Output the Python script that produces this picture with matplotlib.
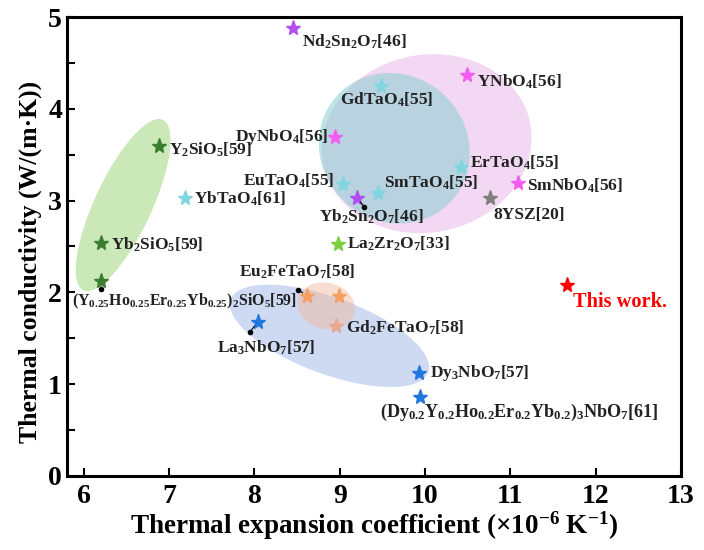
import matplotlib
matplotlib.use("Agg")
import matplotlib.pyplot as plt
from matplotlib.patches import Ellipse
from matplotlib.ticker import MultipleLocator

plt.rcParams['font.family'] = ['Liberation Serif', 'DejaVu Serif']
plt.rcParams['font.weight'] = 'bold'
plt.rcParams['axes.labelweight'] = 'bold'
plt.rcParams['mathtext.fontset'] = 'custom'
plt.rcParams['mathtext.rm'] = 'Liberation Serif:bold'
plt.rcParams['mathtext.default'] = 'regular'

# material, TEC (1e-6/K), thermal conductivity (W/(m K)), family
names = ['Nd2Sn2O7', 'Yb2Sn2O7', 'YNbO4', 'DyNbO4', 'SmNbO4',
         'GdTaO4', 'ErTaO4', 'EuTaO4', 'SmTaO4', 'YbTaO4',
         'Y2SiO5', 'Yb2SiO5', 'HEO-SiO5', 'La2Zr2O7',
         'Eu2FeTaO7-a', 'Eu2FeTaO7-b', 'Gd2FeTaO7',
         'La3NbO7', 'Dy3NbO7', 'HEO-NbO7', '8YSZ', 'This work']
tec = [8.45, 9.20, 10.49, 8.95, 11.09,
       9.48, 10.42, 9.04, 9.45, 7.18,
       6.88, 6.20, 6.20, 8.98,
       8.62, 8.99, 8.96,
       8.04, 9.93, 9.94, 10.76, 11.66]
kappa = [4.88, 3.03, 4.37, 3.69, 3.19,
         4.25, 3.37, 3.18, 3.08, 3.03,
         3.59, 2.54, 2.12, 2.53,
         1.96, 1.96, 1.63,
         1.68, 1.12, 0.86, 3.03, 2.08]
family = ['sn', 'sn', 'nb', 'nb', 'nb',
          'ta', 'ta', 'ta', 'ta', 'ta',
          'si', 'si', 'si', 'zr',
          'fe', 'fe', 'gd',
          'nb7', 'nb7', 'nb7', 'ysz', 'this']

colors = {'sn': '#b24ef0', 'nb': '#f35cf0', 'ta': '#80d6df', 'si': '#3a7d2c',
          'zr': '#7ccf40', 'fe': '#f5a060', 'gd': '#e8a890', 'nb7': '#2277dd',
          'ysz': '#7f7f7f', 'this': '#ff0000'}

# label text, offset from the star (data units), alignment, size
labels = {
    'Nd2Sn2O7': (r'Nd$_2$Sn$_2$O$_7$[46]', 0.11, -0.15, 'left', 12.5),
    'Yb2Sn2O7': (r'Yb$_2$Sn$_2$O$_7$[46]', -0.44, -0.21, 'left', 12.5),
    'YNbO4': (r'YNbO$_4$[56]', 0.12, -0.08, 'left', 12.5),
    'DyNbO4': (r'DyNbO$_4$[56]', -0.09, 0.0, 'right', 12.5),
    'SmNbO4': (r'SmNbO$_4$[56]', 0.11, -0.03, 'left', 12.5),
    'GdTaO4': (r'GdTaO$_4$[55]', -0.48, -0.15, 'left', 12.5),
    'ErTaO4': (r'ErTaO$_4$[55]', 0.11, 0.04, 'left', 12.5),
    'EuTaO4': (r'EuTaO$_4$[55]', -0.10, 0.04, 'right', 12.5),
    'SmTaO4': (r'SmTaO$_4$[55]', 0.07, 0.11, 'left', 12.5),
    'YbTaO4': (r'YbTaO$_4$[61]', 0.11, -0.01, 'left', 12.5),
    'Y2SiO5': (r'Y$_2$SiO$_5$[59]', 0.12, -0.04, 'left', 12.5),
    'Yb2SiO5': (r'Yb$_2$SiO$_5$[59]', 0.12, -0.02, 'left', 12.5),
    'HEO-SiO5': (r'(Y$_{0.25}$Ho$_{0.25}$Er$_{0.25}$Yb$_{0.25}$)$_2$SiO$_5$[59]', -0.34, -0.22, 'left', 11.4),
    'La2Zr2O7': (r'La$_2$Zr$_2$O$_7$[33]', 0.10, 0.0, 'left', 12.5),
    'Eu2FeTaO7-a': (r'Eu$_2$FeTaO$_7$[58]', -0.80, 0.26, 'left', 12.5),
    'Gd2FeTaO7': (r'Gd$_2$FeTaO$_7$[58]', 0.11, -0.02, 'left', 12.5),
    'La3NbO7': (r'La$_3$NbO$_7$[57]', -0.48, -0.29, 'left', 12.5),
    'Dy3NbO7': (r'Dy$_3$NbO$_7$[57]', 0.13, 0.0, 'left', 12.5),
    'HEO-NbO7': (r'(Dy$_{0.2}$Y$_{0.2}$Ho$_{0.2}$Er$_{0.2}$Yb$_{0.2}$)$_3$NbO$_7$[61]', -0.47, -0.17, 'left', 13.1),
    '8YSZ': (r'8YSZ[20]', 0.04, -0.19, 'left', 12.5),
}
# short leader lines: dot offset from the star
leaders = {
    'Yb2Sn2O7': (0.09, -0.10),
    'La3NbO7': (-0.09, -0.11),
    'Eu2FeTaO7-a': (-0.11, 0.07),
    'HEO-SiO5': (0.0, -0.08),
}

fig, ax = plt.subplots(figsize=(7.04, 5.5), dpi=100)
fig.subplots_adjust(left=0.095, right=0.967, bottom=0.135, top=0.969)

# shaded groups
ax.add_patch(Ellipse((6.46, 2.95), 2.08, 0.66, angle=63, facecolor='#a8d98a', alpha=0.6, lw=0, zorder=1))
ax.add_patch(Ellipse((10.02, 3.62), 2.47, 1.94, angle=8, facecolor='#dc90dc', alpha=0.35, lw=0, zorder=1))
ax.add_patch(Ellipse((9.64, 3.57), 1.79, 1.62, angle=-20, facecolor='#7fcdcd', alpha=0.5, lw=0, zorder=1))
ax.add_patch(Ellipse((8.88, 1.525), 2.45, 0.84, angle=-18.6, facecolor='#9fb6e6', alpha=0.5, lw=0, zorder=1))
ax.add_patch(Ellipse((8.84, 1.85), 0.68, 0.51, angle=-10, facecolor='#f0b49a', alpha=0.45, lw=0, zorder=1))

for n, x, y, f in zip(names, tec, kappa, family):
    ax.plot(x, y, marker='*', ms=11, color=colors[f], mec=colors[f], zorder=3)

for n, x, y in zip(names, tec, kappa):
    if n in labels:
        txt, dx, dy, ha, size = labels[n]
        ax.text(x + dx, y + dy, txt, fontsize=size, ha=ha, va='center', color='#222222', zorder=4)
    if n in leaders:
        ox, oy = leaders[n]
        ax.annotate('', xy=(x + ox, y + oy), xytext=(x, y),
                    arrowprops=dict(arrowstyle='-', lw=0.8, color='k', shrinkA=4, shrinkB=0))
        ax.plot(x + ox, y + oy, 'o', ms=3, color='k', zorder=4)

ax.text(tec[-1] + 0.08, kappa[-1] - 0.19, 'This work.', color='red', fontsize=14.7, ha='left', va='center')

ax.set_xlim(5.8, 13)
ax.set_ylim(0, 5)
ax.xaxis.set_major_locator(MultipleLocator(1))
ax.yaxis.set_major_locator(MultipleLocator(1))
ax.yaxis.set_minor_locator(MultipleLocator(0.5))
ax.tick_params(which='both', direction='in', length=6, width=1.5, labelsize=20)
ax.tick_params(axis='x', pad=6)
for lab in ax.get_xticklabels() + ax.get_yticklabels():
    lab.set_fontweight('bold')
for s in ax.spines.values():
    s.set_linewidth(2.2)

ax.set_xlabel(r'Thermal expansion coefficient (×10$^{-6}$ K$^{-1}$)', fontsize=19.5, labelpad=0)
ax.set_ylabel(r'Thermal conductivity (W/(m·K))', fontsize=18.5)
ax.yaxis.set_label_coords(-0.041, 0.466)

fig.savefig('out.png', dpi=100)
